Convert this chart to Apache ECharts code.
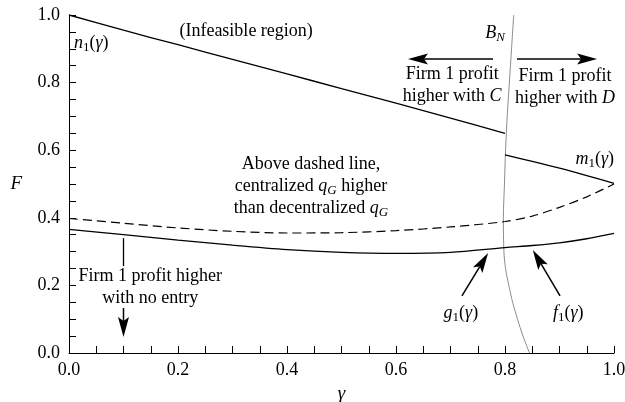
<!DOCTYPE html>
<html><head><meta charset="utf-8">
<script src="https://cdn.jsdelivr.net/npm/echarts@6/dist/echarts.min.js"></script>
<style>html,body{margin:0;padding:0;background:#fff}#c{width:625px;height:402px}</style>
</head><body><div id="c"></div>
<script>
// ---- data ----
const gammaN1 = [0, 0.1, 0.2, 0.3, 0.4, 0.5, 0.6, 0.7, 0.8];
const n1Vals  = [1.0, 0.955, 0.912, 0.869, 0.826, 0.782, 0.739, 0.695, 0.650];
const gammaM1 = [0.8, 0.85, 0.9, 0.95, 1.0];
const m1Vals  = [0.586, 0.567, 0.547, 0.525, 0.502];
const gammaQ  = [0, 0.1, 0.2, 0.3, 0.4, 0.5, 0.6, 0.7, 0.8, 0.85, 0.9, 0.95, 1.0];
const dashedQ = [0.398, 0.384, 0.370, 0.360, 0.355, 0.356, 0.362, 0.373, 0.389, 0.405, 0.431, 0.462, 0.500];
const solidGF = [0.366, 0.350, 0.334, 0.319, 0.306, 0.298, 0.295, 0.298, 0.312, 0.318, 0.326, 0.338, 0.354];
const bnF     = [1.0, 0.9, 0.8, 0.7, 0.6, 0.5, 0.4, 0.3, 0.25, 0.2, 0.15, 0.1, 0.05, 0.0];
const bnGamma = [0.816, 0.812, 0.808, 0.804, 0.801, 0.799, 0.797, 0.798, 0.801, 0.807, 0.814, 0.823, 0.833, 0.845];
const xTicks = [0, 0.2, 0.4, 0.6, 0.8, 1.0];

const FONT = 'Liberation Serif';
const zip = (xs, ys) => xs.map((x, i) => [x, ys[i]]);
const black = '#000';

const chart = echarts.init(document.getElementById('c'), null, {renderer: 'canvas'});

function axisCommon() {
  return {
    type: 'value', min: 0, max: 1, interval: 0.2,
    axisLine: {show: true, onZero: false, lineStyle: {color: black, width: 1}},
    axisTick: {show: true, inside: true, length: 7, lineStyle: {color: black, width: 1}},
    minorTick: {show: true, splitNumber: 4, length: 7, lineStyle: {color: black, width: 1}},
    splitLine: {show: false},
    axisLabel: {color: black, fontFamily: FONT, fontSize: 18, formatter: v => v.toFixed(1)},
    nameTextStyle: {color: black, fontFamily: FONT, fontSize: 19, fontStyle: 'italic'}
  };
}

const xAxis = Object.assign(axisCommon(), {name: 'γ', nameLocation: 'middle', nameGap: 31});
xAxis.axisLabel.margin = 8;
const yAxis = Object.assign(axisCommon(), {name: 'F', nameLocation: 'middle', nameGap: 47, nameRotate: 0});
yAxis.axisLabel.margin = 9;

const solid = {color: black, width: 1.3};
chart.setOption({
  animation: false,
  backgroundColor: '#fff',
  grid: {left: 69, right: 11, top: 15, bottom: 49, containLabel: false, outerBoundsMode: 'none'},
  xAxis: xAxis,
  yAxis: yAxis,
  series: [
    {type: 'line', data: zip(bnGamma, bnF), symbol: 'none', smooth: 0.3, lineStyle: {color: '#8c8c8c', width: 1}, z: 1},
    {type: 'line', data: zip(gammaN1, n1Vals), symbol: 'none', smooth: 0.3, lineStyle: solid, z: 2},
    {type: 'line', data: zip(gammaM1, m1Vals), symbol: 'none', smooth: 0.3, lineStyle: solid, z: 2},
    {type: 'line', data: zip(gammaQ, dashedQ), symbol: 'none', smooth: 0.3, lineStyle: {color: black, width: 1.2, type: [9, 5]}, z: 2},
    {type: 'line', data: zip(gammaQ, solidGF), symbol: 'none', smooth: 0.3, lineStyle: solid, z: 2}
  ]
});

// ---- annotations (anchored in data coordinates) ----
const px = (g, f) => chart.convertToPixel({gridIndex: 0}, [g, f]);
const rich = {
  it: {fontFamily: FONT, fontSize: 18, fontStyle: 'italic', fill: black, lineHeight: 22},
  sb: {fontFamily: FONT, fontSize: 13, fill: black, verticalAlign: 'bottom', lineHeight: 8},
  sbi: {fontFamily: FONT, fontSize: 13, fontStyle: 'italic', fill: black, verticalAlign: 'bottom', lineHeight: 8}
};
function txt(str, g, f, align) {
  const p = px(g, f);
  return {type: 'text', x: p[0], y: p[1], z: 10, silent: true,
    style: {text: str, fill: black, fontFamily: FONT, fontSize: 18, lineHeight: 22,
      align: align, textAlign: align, verticalAlign: 'middle', textVerticalAlign: 'middle', rich: rich}};
}
function arrow(g0, f0, g1, f1) {
  const a = px(g0, f0), b = px(g1, f1);
  const dx = b[0] - a[0], dy = b[1] - a[1], len = Math.hypot(dx, dy);
  const ux = dx / len, uy = dy / len, nx = -uy, ny = ux;
  const L = 20, W = 5.5, d = 4;
  const back = [b[0] - L * ux, b[1] - L * uy];
  const notch = [b[0] - (L - d) * ux, b[1] - (L - d) * uy];
  return [
    {type: 'line', z: 10, silent: true, shape: {x1: a[0], y1: a[1], x2: notch[0], y2: notch[1]}, style: {stroke: black, lineWidth: 1.5}},
    {type: 'polygon', z: 10, silent: true, shape: {points: [b, [back[0] + W * nx, back[1] + W * ny], notch, [back[0] - W * nx, back[1] - W * ny]]}, style: {fill: black}}
  ];
}
function seg(g0, f0, g1, f1) {
  const a = px(g0, f0), b = px(g1, f1);
  return {type: 'line', z: 10, silent: true, shape: {x1: a[0], y1: a[1], x2: b[0], y2: b[1]}, style: {stroke: black, lineWidth: 1.3}};
}

const graphics = [
  txt('(Infeasible region)', 0.325, 0.951, 'center'),
  txt('{it|n}{sb|1}({it|γ})', 0.009, 0.917, 'left'),
  txt('{it|B}{sbi|N}', 0.800, 0.947, 'right'),
  txt('Firm 1 profit\nhigher with {it|C}', 0.703, 0.793, 'center'),
  txt('Firm 1 profit\nhigher with {it|D}', 0.910, 0.785, 'center'),
  txt('{it|m}{sb|1}({it|γ})', 1.0, 0.574, 'right'),
  txt('Above dashed line,\ncentralized {it|q}{sbi|G} higher\nthan decentralized {it|q}{sbi|G}', 0.444, 0.494, 'center'),
  txt('Firm 1 profit higher\nwith no entry', 0.149, 0.195, 'center'),
  txt('{it|g}{sb|1}({it|γ})', 0.719, 0.118, 'center'),
  txt('{it|f}{sb|1}({it|γ})', 0.916, 0.118, 'center'),
  seg(0.1, 0.340, 0.1, 0.257)
].concat(
  arrow(0.778, 0.870, 0.622, 0.870),
  arrow(0.822, 0.870, 0.969, 0.870),
  arrow(0.1, 0.133, 0.1, 0.047),
  arrow(0.721, 0.169, 0.769, 0.296),
  arrow(0.901, 0.169, 0.851, 0.305)
);
chart.setOption({graphic: graphics});
</script></body></html>
